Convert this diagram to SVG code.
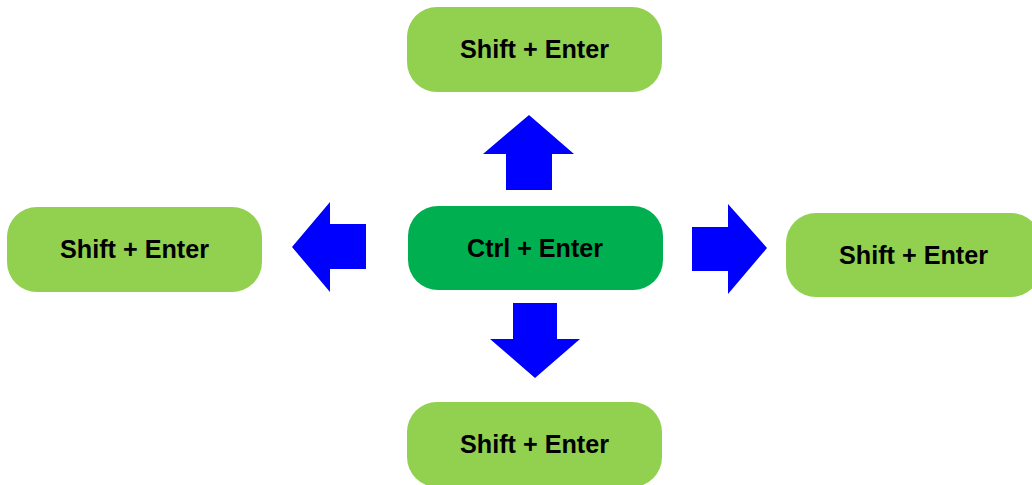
<svg xmlns="http://www.w3.org/2000/svg" width="1032" height="485" viewBox="0 0 1032 485">
<style>
.n{fill:#92D050}
.c{fill:#00B050}
.t{font-family:"Liberation Sans",Arial,sans-serif;font-weight:bold;font-size:26px;fill:#000;text-anchor:middle}
.a{fill:#0000FF}
</style>
<rect width="1032" height="485" fill="#fff"/>
<g id="top">
<rect class="n" x="407" y="7" width="255" height="85" rx="30"/>
<text class="t" x="534.5" y="58" textLength="149" lengthAdjust="spacingAndGlyphs">Shift + Enter</text>
</g>
<g id="center">
<rect class="c" x="408" y="206" width="255" height="84" rx="30"/>
<text class="t" x="535" y="256.5" textLength="136" lengthAdjust="spacingAndGlyphs">Ctrl + Enter</text>
</g>
<g id="left">
<rect class="n" x="7" y="207" width="255" height="85" rx="30"/>
<text class="t" x="134.5" y="258" textLength="149" lengthAdjust="spacingAndGlyphs">Shift + Enter</text>
</g>
<g id="right">
<rect class="n" x="786" y="213" width="255" height="84" rx="30"/>
<text class="t" x="913.5" y="264" textLength="149" lengthAdjust="spacingAndGlyphs">Shift + Enter</text>
</g>
<g id="bottom">
<rect class="n" x="407" y="402" width="255" height="85" rx="30"/>
<text class="t" x="534.5" y="453" textLength="149" lengthAdjust="spacingAndGlyphs">Shift + Enter</text>
</g>
<g id="connectors">
<polygon class="a" points="529,115 574,154 552,154 552,190 506,190 506,154 483,154"/>
<polygon class="a" points="292,247 330,202 330,224 366,224 366,269 330,269 330,292"/>
<polygon class="a" points="767,248 728,204 728,227 692,227 692,271 728,271 728,294"/>
<polygon class="a" points="535,378 580,339 557,339 557,303 513,303 513,339 490,339"/>
</g>
</svg>
